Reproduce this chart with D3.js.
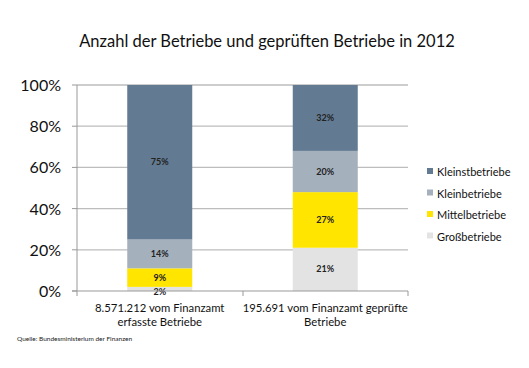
<!DOCTYPE html>
<html>
  <head>
    <meta charset="utf-8" />
    <title>Anzahl der Betriebe</title>
    <script src="https://d3js.org/d3.v7.min.js"></script>
    <style>
      body { margin: 0; background: #fff; }
      text { font-family: Lato, "Open Sans", sans-serif; }
    </style>
  </head>
  <body>
    <script>
      // Data
      const categories = ["8.571.212 vom Finanzamt erfasste Betriebe", "195.691 vom Finanzamt geprüfte Betriebe"];
      const categoryLines = [["8.571.212 vom Finanzamt", "erfasste Betriebe"], ["195.691 vom Finanzamt geprüfte", "Betriebe"]];
      const seriesNames = ["Großbetriebe", "Mittelbetriebe", "Kleinbetriebe", "Kleinstbetriebe"];
      const grossbetriebe = [2, 21];
      const mittelbetriebe = [9, 27];
      const kleinbetriebe = [14, 20];
      const kleinstbetriebe = [75, 32];
      const yTicks = [0, 20, 40, 60, 80, 100];
      const colors = ["#e3e3e3", "#ffe500", "#a5b0bd", "#627b92"];

      const width = 529, height = 368;
      const svg = d3.select("body").append("svg")
        .attr("width", width).attr("height", height);

      const x = d3.scaleBand().domain(categories).range([77, 408]);
      const y = d3.scaleLinear().domain([0, 100]).range([291, 85]);
      const barW = 65;

      // title
      svg.append("text")
        .attr("x", 267).attr("y", 47)
        .attr("text-anchor", "middle")
        .attr("font-size", 16.5)
        .attr("fill", "#111")
        .text("Anzahl der Betriebe und geprüften Betriebe in 2012");

      // gridlines
      svg.append("g").selectAll("line")
        .data(yTicks.filter(d => d > 0))
        .join("line")
        .attr("x1", 77).attr("x2", 408)
        .attr("y1", d => y(d)).attr("y2", d => y(d))
        .attr("stroke", "#bdbdbd").attr("stroke-width", 1.3);

      // y tick labels
      svg.append("g").selectAll("text")
        .data(yTicks)
        .join("text")
        .attr("x", 61).attr("y", d => y(d) + 6)
        .attr("text-anchor", "end")
        .attr("font-size", 16)
        .attr("fill", "#111")
        .text(d => d + "%");

      // stacked bars
      const table = categories.map((c, i) => ({
        cat: c,
        "Großbetriebe": grossbetriebe[i],
        "Mittelbetriebe": mittelbetriebe[i],
        "Kleinbetriebe": kleinbetriebe[i],
        "Kleinstbetriebe": kleinstbetriebe[i]
      }));
      const stacked = d3.stack().keys(seriesNames)(table);

      const layers = svg.append("g").selectAll("g")
        .data(stacked)
        .join("g")
        .attr("fill", (d, i) => colors[i]);

      layers.selectAll("rect")
        .data(d => d)
        .join("rect")
        .attr("x", d => x(d.data.cat) + x.bandwidth() / 2 - barW / 2)
        .attr("width", barW)
        .attr("y", d => y(d[1]))
        .attr("height", d => y(d[0]) - y(d[1]));

      // value labels
      layers.selectAll("text")
        .data(d => d)
        .join("text")
        .attr("x", d => x(d.data.cat) + x.bandwidth() / 2)
        .attr("y", d => {
          const v = d[1] - d[0];
          return v < 5 ? y(d[0]) + 4 : (y(d[0]) + y(d[1])) / 2 + 3;
        })
        .attr("text-anchor", "middle")
        .attr("font-size", 9)
        .attr("font-weight", "bold")
        .attr("fill", "#222")
        .text(d => (d[1] - d[0]) + "%");

      // axis lines
      svg.append("line")
        .attr("x1", 77).attr("x2", 77).attr("y1", 85).attr("y2", 291)
        .attr("stroke", "#999");
      svg.append("line")
        .attr("x1", 72).attr("x2", 408).attr("y1", 291).attr("y2", 291)
        .attr("stroke", "#999");
      // category ticks
      svg.append("g").selectAll("line")
        .data([77, 243, 408])
        .join("line")
        .attr("x1", d => d).attr("x2", d => d)
        .attr("y1", 291).attr("y2", 296)
        .attr("stroke", "#999");
      // small left ticks at each gridline
      svg.append("g").selectAll("line")
        .data(yTicks)
        .join("line")
        .attr("x1", 72).attr("x2", 77)
        .attr("y1", d => y(d)).attr("y2", d => y(d))
        .attr("stroke", "#999");

      // category labels
      categoryLines.forEach((lines, i) => {
        const cx = x(categories[i]) + x.bandwidth() / 2;
        const t = svg.append("text")
          .attr("x", cx)
          .attr("y", 312)
          .attr("text-anchor", "middle")
          .attr("font-size", 11.3)
          .attr("fill", "#111");
        lines.forEach((l, j) => {
          t.append("tspan")
            .attr("x", cx)
            .attr("dy", j === 0 ? 0 : 13.5)
            .text(l);
        });
      });

      // legend (top to bottom reversed)
      const legendItems = seriesNames.map((n, i) => ({ name: n, color: colors[i] })).reverse();
      const lg = svg.append("g").selectAll("g")
        .data(legendItems)
        .join("g")
        .attr("transform", (d, i) => `translate(427, ${176 + i * 21.5})`);
      lg.append("rect")
        .attr("x", 0).attr("y", -8).attr("width", 6).attr("height", 6)
        .attr("fill", d => d.color);
      lg.append("text")
        .attr("x", 10).attr("y", 0)
        .attr("font-size", 11)
        .attr("fill", "#111")
        .text(d => d.name);

      // source
      svg.append("text")
        .attr("x", 17).attr("y", 341)
        .attr("font-size", 6.5)
        .attr("fill", "#222")
        .text("Quelle: Bundesministerium der Finanzen");
    </script>
  </body>
</html>
